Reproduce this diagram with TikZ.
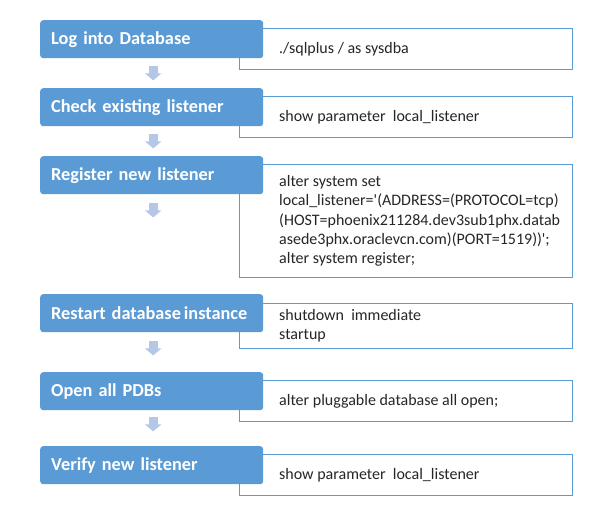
\documentclass[tikz,border=0pt]{standalone}
\usepackage{fontspec}
\setmainfont{Carlito}
\usetikzlibrary{arrows.meta}
\definecolor{boxblue}{HTML}{5B9BD5}
\definecolor{arrblue}{HTML}{B4C7E7}
\definecolor{txt}{HTML}{262626}
\tikzset{
  stepbox/.style={fill=boxblue, rounded corners=3pt, text=white,
    font=\bfseries\fontsize{18.3}{22}\selectfont, text width=201pt,
    inner xsep=11pt, inner ysep=0pt, align=left, anchor=north west,
    minimum height=38pt},
  codebox/.style={draw=boxblue, line width=0.9pt, fill=white,
    anchor=north west, minimum width=333pt, inner sep=0pt},
  codetext/.style={anchor=west, font=\fontsize{16}{19.4}\selectfont,
    text=txt, align=left, inner sep=0pt},
  blockarr/.style={draw=arrblue, line width=9pt,
    -{Triangle[width=16pt,length=7pt]}}
}
\begin{document}
\begin{tikzpicture}[x=1pt,y=-1pt]
\useasboundingbox[fill=white] (0,0) rectangle (616,524);
% code boxes
\node[codebox, minimum height=41pt] (c1) at (239,28) {};
\node[codebox, minimum height=41pt] (c2) at (239,96) {};
\node[codebox, minimum height=113pt] (c3) at (239,164) {};
\node[codebox, minimum height=45pt] (c4) at (239,303) {};
\node[codebox, minimum height=41pt] (c5) at (239,380) {};
\node[codebox, minimum height=41pt] (c6) at (239,454) {};
\node[codetext] (t1) at ([xshift=40pt]c1.west) {./sqlplus / as sysdba};
\node[codetext] (t2) at ([xshift=40pt]c2.west) {show parameter\ \ local\_listener};
\node[codetext] (t3) at ([xshift=40pt]c3.west) {alter system set\\
local\_listener=\textquotesingle(ADDRESS=(PROTOCOL=tcp)\\
(HOST=phoenix211284.dev3sub1phx.datab\\
asede3phx.oraclevcn.com)(PORT=1519))\textquotesingle;\\
alter system register;};
\node[codetext] (t4) at ([xshift=40pt]c4.west) {shutdown\ \ immediate\\startup};
\node[codetext] (t5) at ([xshift=40pt]c5.west) {alter pluggable database all open;};
\node[codetext] (t6) at ([xshift=40pt]c6.west) {show parameter\ \ local\_listener};
% step boxes
\node[stepbox] (b1) at (40,20) {Log into Database};
\node[stepbox] (b2) at (40,88) {Check existing listener};
\node[stepbox] (b3) at (40,156) {Register new listener};
\node[stepbox] (b4) at (40,294) {\mbox{Restart database\kern3pt instance}};
\node[stepbox] (b5) at (40,372) {Open all PDBs};
\node[stepbox] (b6) at (40,446) {Verify new listener};
% arrows
\draw[blockarr] ([xshift=1.5pt,yshift=-8pt]b1.south) -- ++(0,14);
\draw[blockarr] ([xshift=1.5pt,yshift=-8pt]b2.south) -- ++(0,14);
\draw[blockarr] ([xshift=1.5pt,yshift=-9pt]b3.south) -- ++(0,14);
\draw[blockarr] ([xshift=1.5pt,yshift=-9pt]b4.south) -- ++(0,14);
\draw[blockarr] ([xshift=1.5pt,yshift=-7pt]b5.south) -- ++(0,14);
\end{tikzpicture}
\end{document}
